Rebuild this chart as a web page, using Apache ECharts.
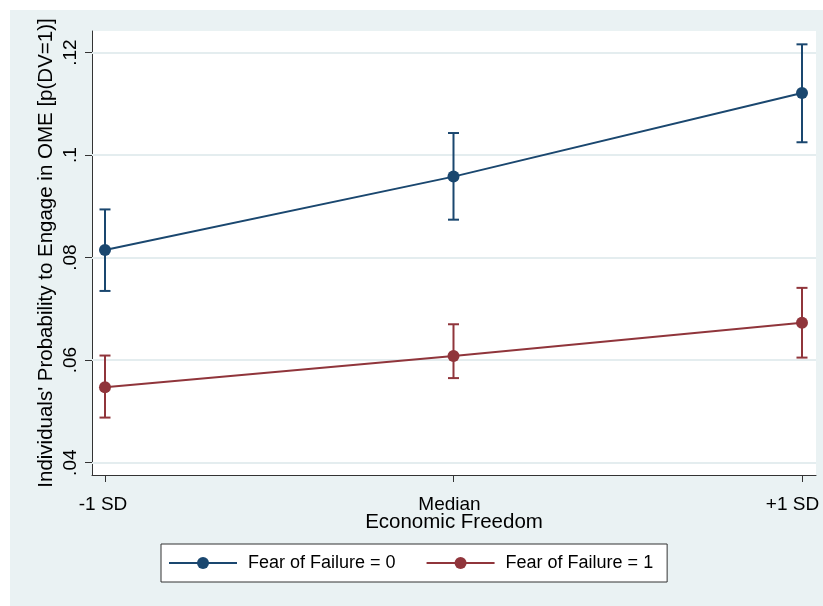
<!DOCTYPE html>
<html>
<head>
<meta charset="utf-8">
<title>Economic Freedom</title>
<script src="https://cdn.jsdelivr.net/npm/echarts@6/dist/echarts.min.js"></script>
<style>
  html, body { margin: 0; padding: 0; background: #ffffff; }
  #chart { width: 823px; height: 606px; }
</style>
</head>
<body>
<div id="chart"></div>
<script>
// Categories along the x axis
const categories = ['-1 SD', 'Median', '+1 SD'];

// Predicted probabilities and 95% confidence bounds
const fear0Mean = [0.0815, 0.0958, 0.1121];
const fear0Low  = [0.0735, 0.0874, 0.1025];
const fear0High = [0.0894, 0.1043, 0.1216];

const fear1Mean = [0.0547, 0.0608, 0.0673];
const fear1Low  = [0.0488, 0.0565, 0.0605];
const fear1High = [0.0609, 0.0670, 0.0741];

// Y axis ticks and their labels
const yTicks = [0.04, 0.06, 0.08, 0.10, 0.12];
const yTickLabels = ['.04', '.06', '.08', '.1', '.12'];

const seriesNames = ['Fear of Failure = 0', 'Fear of Failure = 1'];

const BLUE = '#1A476F';
const RED = '#90353B';
const FONT = '"Liberation Sans", Arial, sans-serif';

const points = (means) => means.map((v, i) => [i, v]);
const bars = (lo, hi) => lo.map((v, i) => [i, v, hi[i]]);

function errorBar(color) {
  return function (params, api) {
    const x = api.value(0);
    const lo = api.coord([x, api.value(1)]);
    const hi = api.coord([x, api.value(2)]);
    const hw = 5.5;
    const style = { stroke: color, lineWidth: 2 };
    return {
      type: 'group',
      children: [
        { type: 'line', shape: { x1: lo[0], y1: lo[1], x2: hi[0], y2: hi[1] }, style },
        { type: 'line', shape: { x1: hi[0] - hw, y1: hi[1], x2: hi[0] + hw, y2: hi[1] }, style },
        { type: 'line', shape: { x1: lo[0] - hw, y1: lo[1], x2: lo[0] + hw, y2: lo[1] }, style }
      ]
    };
  };
}

// Category labels are nudged left so the last one stays inside the frame
const xLabelStyle = ['l0', 'l1', 'l2'];

const chart = echarts.init(document.getElementById('chart'), null, { renderer: 'canvas' });

chart.setOption({
  animation: false,
  backgroundColor: '#EAF2F3',
  textStyle: { fontFamily: FONT },
  graphic: [
    { type: 'rect', left: 0, top: 0, shape: { width: 823, height: 10 }, style: { fill: '#ffffff' }, silent: true },
    { type: 'rect', left: 0, top: 0, shape: { width: 10, height: 606 }, style: { fill: '#ffffff' }, silent: true }
  ],
  grid: {
    left: 92, top: 31, right: 7, bottom: 131,
    show: true, backgroundColor: '#ffffff', borderWidth: 0,
    containLabel: false,
    outerBoundsMode: 'none'
  },
  xAxis: {
    type: 'value',
    min: -0.0373,
    max: 2.0402,
    name: 'Economic Freedom',
    nameLocation: 'middle',
    nameGap: 37,
    nameMoveOverlap: false,
    nameTextStyle: { fontSize: 20.5, color: '#000', fontFamily: FONT },
    axisLine: { show: true, onZero: false, lineStyle: { color: '#333', width: 1 } },
    axisTick: { show: true, length: 7, customValues: [0, 1, 2], lineStyle: { color: '#333' } },
    axisLabel: {
      customValues: [0, 1, 2],
      formatter: (v) => {
        const i = Math.round(v);
        return '{' + xLabelStyle[i] + '|' + categories[i] + '}';
      },
      rich: {
        l0: { fontSize: 19, color: '#000', fontFamily: FONT, padding: [0, 4, 0, 0] },
        l1: { fontSize: 19, color: '#000', fontFamily: FONT, padding: [0, 8, 0, 0] },
        l2: { fontSize: 19, color: '#000', fontFamily: FONT, padding: [0, 19, 0, 0] }
      },
      fontSize: 19, color: '#000', margin: 20, fontFamily: FONT
    },
    splitLine: { show: false }
  },
  yAxis: {
    type: 'value',
    min: 0.0376,
    max: 0.1242,
    name: "Individuals' Probability to Engage in OME [p(DV=1)]",
    nameLocation: 'middle',
    nameRotate: 90,
    nameGap: 35,
    nameMoveOverlap: false,
    nameTextStyle: { fontSize: 20.5, color: '#000', fontFamily: FONT },
    axisLine: { show: true, onZero: false, lineStyle: { color: '#333', width: 1 } },
    axisTick: { show: true, length: 7, customValues: yTicks, lineStyle: { color: '#333' } },
    axisLabel: {
      customValues: yTicks,
      formatter: (v) => yTickLabels[yTicks.findIndex((t) => Math.abs(t - v) < 1e-9)],
      rotate: 90,
      fontSize: 19, color: '#000', margin: 12, fontFamily: FONT
    },
    splitLine: { show: false }
  },
  legend: {
    data: seriesNames,
    left: 161,
    top: 544,
    orient: 'horizontal',
    backgroundColor: '#ffffff',
    borderColor: '#333',
    borderWidth: 1,
    borderRadius: 0,
    padding: [10, 14, 10, 7],
    itemGap: 30,
    itemWidth: 68,
    itemHeight: 15,
    textStyle: { fontSize: 18, color: '#000', fontFamily: FONT, padding: [0, 0, 0, 6] }
  },
  series: [
    {
      name: 'grid',
      type: 'line',
      data: [],
      z: 1,
      silent: true,
      markLine: {
        z: 1,
        silent: true,
        symbol: ['none', 'none'],
        label: { show: false },
        lineStyle: { color: '#E4EDEF', width: 2, type: 'solid' },
        data: yTicks.map((v) => ({ yAxis: v }))
      }
    },
    {
      name: seriesNames[0] + ' CI',
      type: 'custom',
      z: 3,
      renderItem: errorBar(BLUE),
      encode: { x: 0, y: [1, 2] },
      data: bars(fear0Low, fear0High)
    },
    {
      name: seriesNames[1] + ' CI',
      type: 'custom',
      z: 3,
      renderItem: errorBar(RED),
      encode: { x: 0, y: [1, 2] },
      data: bars(fear1Low, fear1High)
    },
    {
      name: seriesNames[0],
      type: 'line',
      z: 4,
      data: points(fear0Mean),
      symbol: 'circle',
      symbolSize: 12,
      lineStyle: { color: BLUE, width: 2 },
      itemStyle: { color: BLUE }
    },
    {
      name: seriesNames[1],
      type: 'line',
      z: 4,
      data: points(fear1Mean),
      symbol: 'circle',
      symbolSize: 12,
      lineStyle: { color: RED, width: 2 },
      itemStyle: { color: RED }
    }
  ]
});
</script>
</body>
</html>
